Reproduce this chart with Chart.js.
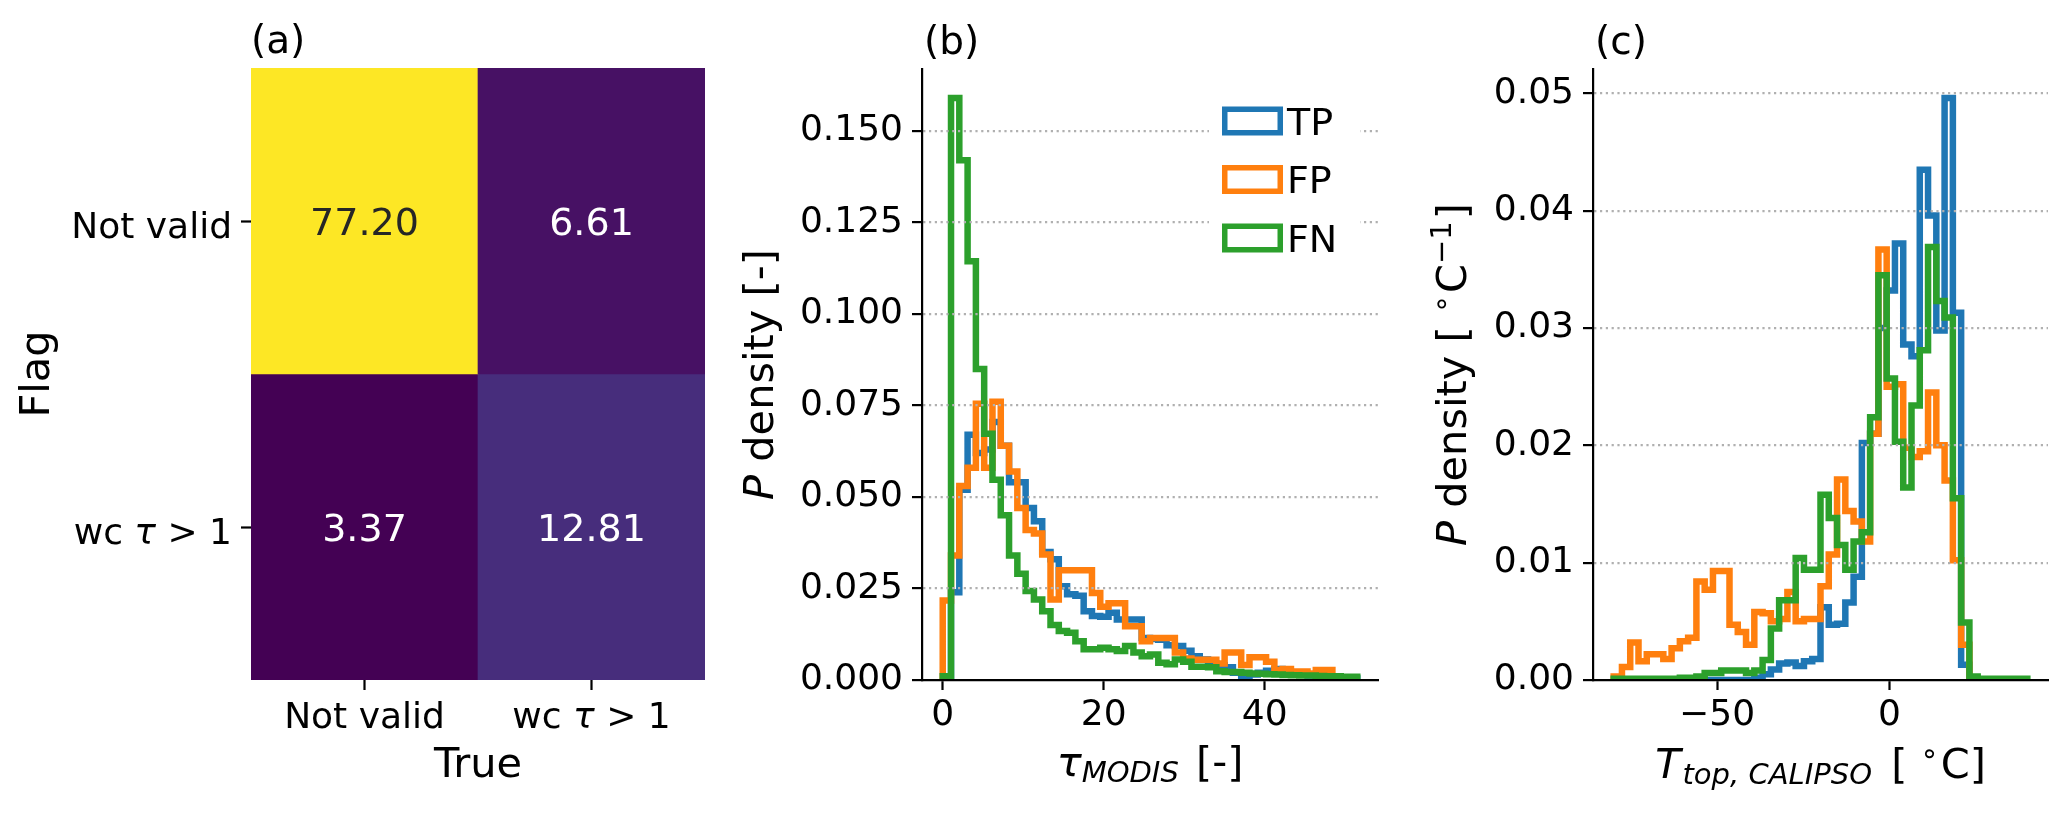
<!DOCTYPE html>
<html>
<head>
<meta charset="utf-8">
<script src="https://cdn.jsdelivr.net/npm/chart.js@4.4.1/dist/chart.umd.min.js"></script>
<style>
  html, body { margin: 0; padding: 0; background: #fff; }
  #fig { position: relative; width: 2067px; height: 815px; background: #fff; overflow: hidden; }
  canvas { position: absolute; top: 0; }
</style>
</head>
<body>
<div id="fig">
  <canvas id="panelA" width="715" height="815" style="left:0px"></canvas>
  <canvas id="panelB" width="715" height="815" style="left:715px"></canvas>
  <canvas id="panelC" width="637" height="815" style="left:1430px"></canvas>
</div>
<script>
// ---- (a) confusion matrix in percent, rows = Flag, columns = True
const flagLabels = ['Not valid', 'wc τ > 1'];
const trueLabels = ['Not valid', 'wc τ > 1'];
const confusion = [
  [77.20, 6.61],
  [3.37, 12.81]
];

// ---- (b) tau_MODIS density histograms, 50 common bins
const seriesNames = ['TP', 'FP', 'FN'];
const tauBinRange = [0, 51.5];
const tauTP = [0, 0.024, 0.052, 0.067, 0.062, 0.063, 0.0705, 0.064, 0.054, 0.054,
  0.047, 0.0434, 0.035, 0.033, 0.0256, 0.0234, 0.023, 0.0188, 0.0175, 0.0173,
  0.0184, 0.0165, 0.0165, 0.0165, 0.0115, 0.0112, 0.011, 0.0095, 0.0093, 0.008,
  0.0065, 0.0056, 0.0045, 0.004, 0.0035, 0.002, 0.0006, 0.0015, 0.002, 0.0025,
  0.003, 0.0022, 0.0018, 0.0015, 0.0012, 0.001, 0.0008, 0.0006, 0.0005, 0.0004];
const tauFP = [0.0217, 0.034, 0.053, 0.058, 0.0755, 0.058, 0.076, 0.064, 0.057, 0.047,
  0.041, 0.040, 0.0343, 0.022, 0.030, 0.030, 0.030, 0.030, 0.0238, 0.020,
  0.021, 0.021, 0.0147, 0.0147, 0.0106, 0.0115, 0.0115, 0.0115, 0.0075, 0.0059,
  0.0055, 0.0055, 0.0055, 0.0045, 0.0075, 0.0075, 0.0041, 0.0062, 0.0062, 0.005,
  0.0027, 0.003, 0.0023, 0.0023, 0.0018, 0.0027, 0.0027, 0, 0, 0];
const tauFN = [0.001, 0.159, 0.142, 0.1144, 0.085, 0.0673, 0.0547, 0.045, 0.034, 0.029,
  0.0243, 0.022, 0.0188, 0.015, 0.0134, 0.0129, 0.0106, 0.0084, 0.0084, 0.0088,
  0.0084, 0.0079, 0.0093, 0.0075, 0.0065, 0.007, 0.0047, 0.0043, 0.0056, 0.005,
  0.0036, 0.0036, 0.0035, 0.0024, 0.0022, 0.0022, 0.002, 0.0018, 0.0017, 0.0016,
  0.0015, 0.0014, 0.0013, 0.0012, 0.0012, 0.0011, 0.001, 0.001, 0.0009, 0.0009];
const tauXTicks = [0, 20, 40];
const tauXTickLabels = ['0', '20', '40'];
const tauYTicks = [0, 0.025, 0.05, 0.075, 0.1, 0.125, 0.15];
const tauYTickLabels = ['0.000', '0.025', '0.050', '0.075', '0.100', '0.125', '0.150'];

// ---- (c) CALIPSO cloud top temperature density histograms, 50 common bins
const tempBinRange = [-80, 40];
const tempTP = [0, 0, 0, 0, 0, 0, 0, 0, 0, 0,
  0, 0, 0, 0, 0, 0, 0, 0.0002, 0.0005, 0.0009,
  0.0014, 0.0015, 0.0012, 0.0016, 0.0018, 0.0062, 0.0047, 0.0048, 0.0066, 0.0088,
  0.0202, 0.021, 0.030, 0.0332, 0.0372, 0.0286, 0.0276, 0.0435, 0.0396, 0.0298,
  0.0496, 0.0313, 0.0013, 0, 0, 0, 0, 0, 0, 0];
const tempFP = [0.0003, 0.0011, 0.0032, 0.0016, 0.0022, 0.0022, 0.0018, 0.0027, 0.0033, 0.0036,
  0.0084, 0.0077, 0.0093, 0.0093, 0.0047, 0.0041, 0.0030, 0.0058, 0.0057, 0.005,
  0.0052, 0.0075, 0.005, 0.0052, 0.0052, 0.008, 0.0107, 0.0171, 0.0144, 0.0135,
  0.0118, 0.021, 0.0367, 0.025, 0.0252, 0.0198, 0.019, 0.0195, 0.0245, 0.020,
  0.017, 0.0102, 0.003, 0, 0, 0, 0, 0, 0, 0];
const tempFN = [0.0001, 0.0001, 0.0001, 0.0001, 0.0001, 0.0001, 0.0001, 0.0001, 0.0002, 0.0002,
  0.0003, 0.0006, 0.0006, 0.0008, 0.0008, 0.0008, 0.0006, 0.0008, 0.0017, 0.0044,
  0.0068, 0.0068, 0.0104, 0.0094, 0.0094, 0.0158, 0.0138, 0.0115, 0.0094, 0.0118,
  0.0126, 0.0224, 0.0345, 0.0257, 0.0203, 0.0164, 0.0234, 0.0281, 0.0369, 0.0323,
  0.0309, 0.0155, 0.0049, 0.0003, 0.0001, 0.0001, 0.0001, 0.0001, 0.0001, 0.0001];
const tempXTicks = [-50, 0];
const tempXTickLabels = ['\u221250', '0'];
const tempYTicks = [0, 0.01, 0.02, 0.03, 0.04, 0.05];
const tempYTickLabels = ['0.00', '0.01', '0.02', '0.03', '0.04', '0.05'];

// ---- style
const FAMILY = 'DejaVu Sans';
const seriesColors = { TP: '#1f77b4', FP: '#ff7f0e', FN: '#2ca02c' };
const viridis16 = ['#440154', '#481a6c', '#472f7d', '#414487', '#39568c', '#31688e', '#2a788e', '#23888e',
  '#1f988b', '#22a884', '#35b779', '#54c568', '#7ad151', '#a5db36', '#d2e21b', '#fde725'];
const TICK = 36, LABEL = 41.5, SUB = 29, TITLE = 39;

Chart.defaults.font.family = FAMILY;
Chart.defaults.color = '#000';

function font(size, style) { return (style ? style + ' ' : '') + size + 'px "' + FAMILY + '"'; }

function hexRgb(h) { return [1, 3, 5].map(i => parseInt(h.substr(i, 2), 16)); }
function viridis(t) {
  t = Math.min(1, Math.max(0, t));
  const p = t * (viridis16.length - 1), i = Math.min(Math.floor(p), viridis16.length - 2), f = p - i;
  const a = hexRgb(viridis16[i]), b = hexRgb(viridis16[i + 1]);
  return 'rgb(' + a.map((v, k) => Math.round(v + (b[k] - v) * f)).join(',') + ')';
}

// text made of runs with different fonts / offsets (italic symbols, sub- and superscripts)
function drawRuns(ctx, runs, x, y, align, angle) {
  ctx.save();
  ctx.translate(x, y);
  if (angle) ctx.rotate(angle);
  ctx.textBaseline = 'alphabetic';
  ctx.textAlign = 'left';
  let total = 0;
  runs.forEach(r => { ctx.font = r.font; r.w = ctx.measureText(r.t).width + (r.gap || 0); total += r.w; });
  let cx = align === 'center' ? -total / 2 : (align === 'right' ? -total : 0);
  runs.forEach(r => {
    ctx.font = r.font;
    ctx.fillStyle = r.color || '#000';
    ctx.fillText(r.t, cx, r.dy || 0);
    cx += r.w;
  });
  ctx.restore();
}
function mathRuns(label, size) {
  return label.split(/(τ)/).filter(s => s).map(s => ({ t: s, font: s === 'τ' ? font(size, 'italic') : font(size) }));
}

function binEdges(range, n) {
  const w = (range[1] - range[0]) / n;
  return Array.from({ length: n + 1 }, (_, i) => range[0] + i * w);
}
function histPoints(edges, heights) {
  const pts = [{ x: edges[0], y: 0 }];
  heights.forEach((h, i) => pts.push({ x: edges[i], y: h }));
  pts.push({ x: edges[edges.length - 1], y: 0 });
  return pts;
}
function histDataset(name, edges, heights, order) {
  return {
    label: name,
    data: histPoints(edges, heights),
    stepped: true,
    borderColor: seriesColors[name],
    borderWidth: 6.5,
    borderJoinStyle: 'miter',
    borderCapStyle: 'butt',
    pointRadius: 0,
    pointHoverRadius: 0,
    fill: false,
    order: order
  };
}

function histOptions(opt) {
  const range = opt.range, pad = 0.05 * (range[1] - range[0]);
  const yMax = 1.05 * Math.max(...opt.series.flat());
  return {
    responsive: false,
    animation: false,
    devicePixelRatio: 1,
    layout: { padding: { left: 0, top: 69, right: opt.right, bottom: 0 } },
    plugins: { legend: { display: false }, tooltip: { enabled: false } },
    scales: {
      x: {
        type: 'linear', min: range[0] - pad, max: range[1] + pad, bounds: 'data',
        afterBuildTicks: s => { s.ticks = opt.xTicks.map(v => ({ value: v })); },
        afterFit: s => { s.height = 135; },
        ticks: { font: { size: TICK }, color: '#000', padding: 4, maxRotation: 0, autoSkip: false,
          callback: (v, i) => opt.xLabels[i] },
        grid: { drawOnChartArea: false, drawTicks: true, tickLength: 10, tickWidth: 2.2, tickColor: '#000' },
        border: { display: true, color: '#000', width: 2.2, z: 2 }
      },
      y: {
        type: 'linear', min: 0, max: yMax, bounds: 'data',
        afterBuildTicks: s => { s.ticks = opt.yTicks.map(v => ({ value: v })); },
        afterFit: s => { s.width = opt.left; },
        ticks: { font: { size: TICK }, color: '#000', padding: 9, autoSkip: false,
          callback: (v, i) => opt.yLabels[i] },
        grid: {
          color: c => (c.tick && c.tick.value === 0) ? 'rgba(0,0,0,0)' : '#b0b0b0',
          lineWidth: 2.2, z: 1, drawTicks: true, tickLength: 10, tickWidth: 2.2, tickColor: '#000'
        },
        border: { display: true, color: '#000', width: 2.2, dash: [2.2, 3.6], z: 2 }
      }
    }
  };
}

// ---------------- panel (a)
const vmin = Math.min(...confusion.flat()), vmax = Math.max(...confusion.flat());
const nRows = flagLabels.length;
new Chart(document.getElementById('panelA'), {
  type: 'bar',
  data: {
    labels: trueLabels,
    datasets: confusion.map((row, i) => ({
      label: flagLabels[i],
      data: row.map(() => [nRows - 1 - i, nRows - i]),
      backgroundColor: row.map(v => viridis((v - vmin) / (vmax - vmin))),
      borderWidth: 0,
      grouped: false,
      barPercentage: 1,
      categoryPercentage: 1
    }))
  },
  options: {
    responsive: false,
    animation: false,
    devicePixelRatio: 1,
    layout: { padding: { left: 0, top: 68, right: 10, bottom: 0 } },
    plugins: { legend: { display: false }, tooltip: { enabled: false } },
    scales: {
      x: {
        type: 'category',
        afterFit: s => { s.height = 135; },
        ticks: { color: 'rgba(0,0,0,0)', font: { size: TICK } },
        grid: { offset: false, drawOnChartArea: false, drawTicks: true, tickLength: 10, tickWidth: 2.2, tickColor: '#000' },
        border: { display: false }
      },
      y: {
        type: 'linear', min: 0, max: nRows, bounds: 'data',
        afterBuildTicks: s => { s.ticks = flagLabels.map((_, i) => ({ value: nRows - i - 0.5 })); },
        afterFit: s => { s.width = 251; },
        ticks: { color: 'rgba(0,0,0,0)', font: { size: TICK } },
        grid: { drawOnChartArea: false, drawTicks: true, tickLength: 10, tickWidth: 2.2, tickColor: '#000' },
        border: { display: false }
      }
    }
  },
  plugins: [{
    id: 'heatText',
    afterDraw(chart) {
      const { ctx, chartArea: a, scales: { x, y } } = chart;
      confusion.forEach((row, i) => row.forEach((v, j) => {
        const t = (v - vmin) / (vmax - vmin);
        drawRuns(ctx, [{ t: v.toFixed(2), font: font(38), color: t > 0.5 ? '#262626' : '#ffffff' }],
          x.getPixelForValue(j), y.getPixelForValue(nRows - i - 0.5) + 14, 'center');
      }));
      flagLabels.forEach((lab, i) => drawRuns(ctx, mathRuns(lab, TICK), a.left - 19,
        y.getPixelForValue(nRows - i - 0.5) + 16.5, 'right'));
      trueLabels.forEach((lab, j) => drawRuns(ctx, mathRuns(lab, TICK), x.getPixelForValue(j), a.bottom + 48, 'center'));
      drawRuns(ctx, [{ t: 'True', font: font(LABEL) }], (a.left + a.right) / 2, a.bottom + 97, 'center');
      drawRuns(ctx, [{ t: 'Flag', font: font(LABEL) }], a.left - 202, (a.top + a.bottom) / 2, 'center', -Math.PI / 2);
      drawRuns(ctx, [{ t: '(a)', font: font(TITLE) }], a.left, a.top - 15, 'left');
    }
  }]
});

// ---------------- panel (b)
const tauEdges = binEdges(tauBinRange, tauTP.length);
new Chart(document.getElementById('panelB'), {
  type: 'line',
  data: {
    datasets: [
      histDataset('TP', tauEdges, tauTP, 2),
      histDataset('FP', tauEdges, tauFP, 1),
      histDataset('FN', tauEdges, tauFN, 0)
    ]
  },
  options: histOptions({ range: tauBinRange, series: [tauTP, tauFP, tauFN], left: 207, right: 52,
    xTicks: tauXTicks, xLabels: tauXTickLabels, yTicks: tauYTicks, yLabels: tauYTickLabels }),
  plugins: [{
    id: 'tauText',
    afterDraw(chart) {
      const { ctx, chartArea: a } = chart;
      drawRuns(ctx, [{ t: '(b)', font: font(TITLE) }], a.left + 2, a.top - 15, 'left');
      drawRuns(ctx, [
        { t: 'P', font: font(LABEL, 'italic') },
        { t: ' density [-]', font: font(LABEL) }
      ], a.left - 149, (a.top + a.bottom) / 2, 'center', -Math.PI / 2);
      drawRuns(ctx, [
        { t: 'τ', font: font(LABEL, 'italic') },
        { t: 'MODIS', font: font(SUB, 'italic'), dy: 6, gap: 4 },
        { t: ' [-]', font: font(LABEL) }
      ], (a.left + a.right) / 2, a.bottom + 96, 'center');
      // legend, white background hides the grid
      ctx.save();
      ctx.fillStyle = '#fff';
      ctx.fillRect(a.right - 169, a.top + 22, 151, 175);
      seriesNames.forEach((name, i) => {
        const cy = a.top + 52 + i * 58.5;
        ctx.strokeStyle = seriesColors[name];
        ctx.lineWidth = 5.5;
        ctx.lineJoin = 'miter';
        ctx.strokeRect(a.right - 153.25, cy - 11.75, 55.5, 23.5);
        drawRuns(ctx, [{ t: name, font: font(38) }], a.right - 91, cy + 13.5, 'left');
      });
      ctx.restore();
    }
  }]
});

// ---------------- panel (c)
const tempEdges = binEdges(tempBinRange, tempTP.length);
new Chart(document.getElementById('panelC'), {
  type: 'line',
  data: {
    datasets: [
      histDataset('TP', tempEdges, tempTP, 2),
      histDataset('FP', tempEdges, tempFP, 1),
      histDataset('FN', tempEdges, tempFN, 0)
    ]
  },
  options: histOptions({ range: tempBinRange, series: [tempTP, tempFP, tempFN], left: 163, right: 19,
    xTicks: tempXTicks, xLabels: tempXTickLabels, yTicks: tempYTicks, yLabels: tempYTickLabels }),
  plugins: [{
    id: 'tempText',
    afterDraw(chart) {
      const { ctx, chartArea: a } = chart;
      drawRuns(ctx, [{ t: '(c)', font: font(TITLE) }], a.left + 2, a.top - 15, 'left');
      drawRuns(ctx, [
        { t: 'P', font: font(LABEL, 'italic') },
        { t: ' density [ ', font: font(LABEL) },
        { t: '\u2218', font: font(SUB), dy: -15, gap: 2 },
        { t: 'C', font: font(LABEL) },
        { t: '\u22121', font: font(SUB), dy: -15, gap: 2 },
        { t: ']', font: font(LABEL) }
      ], a.left - 127, (a.top + a.bottom) / 2, 'center', -Math.PI / 2);
      drawRuns(ctx, [
        { t: 'T', font: font(LABEL, 'italic'), gap: 2 },
        { t: 'top, CALIPSO', font: font(SUB, 'italic'), dy: 6, gap: 6 },
        { t: ' [ ', font: font(LABEL) },
        { t: '\u2218', font: font(SUB), dy: -15, gap: 2 },
        { t: 'C]', font: font(LABEL) }
      ], (a.left + a.right) / 2, a.bottom + 98, 'center');
    }
  }]
});
</script>
</body>
</html>
